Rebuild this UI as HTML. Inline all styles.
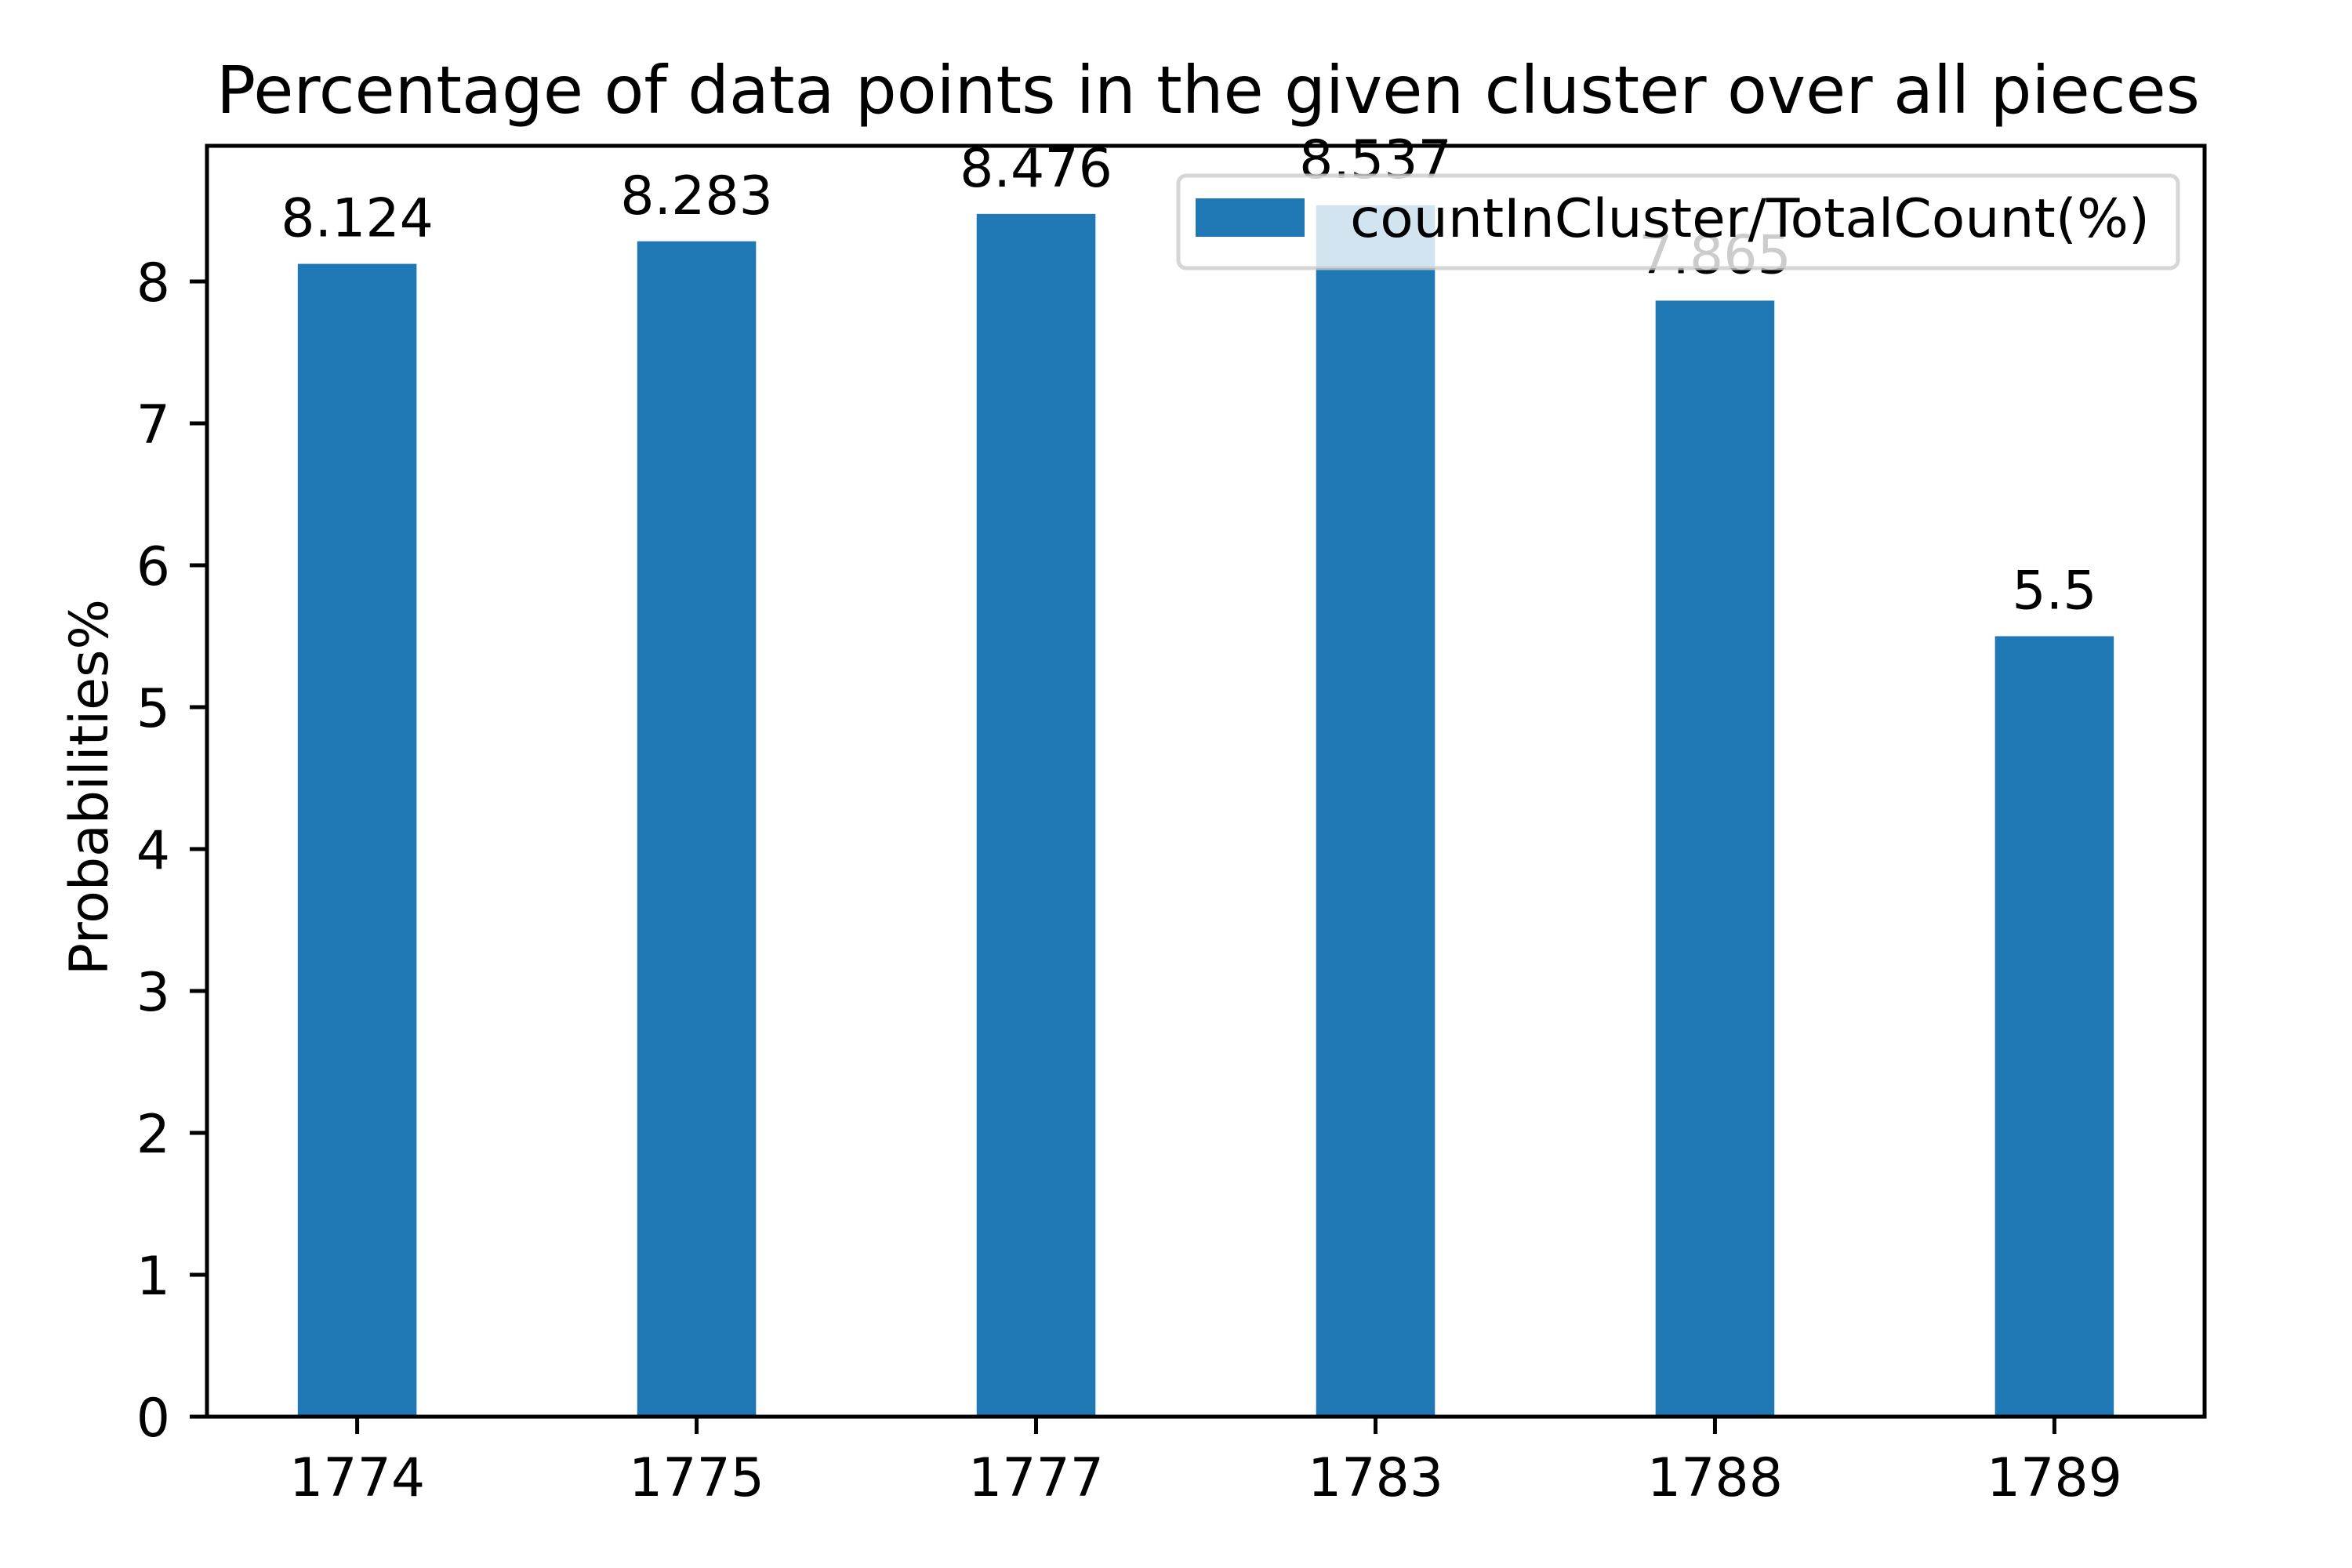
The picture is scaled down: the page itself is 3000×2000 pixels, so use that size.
<!DOCTYPE html>
<html><head><meta charset="utf-8"><style>
html,body{margin:0;padding:0;background:#fff;}
svg{display:block;font-family:"DejaVu Sans","Liberation Sans",sans-serif;}
</style></head><body>
<svg id="chart" width="3000" height="2000" viewBox="0 0 3000 2000" xmlns="http://www.w3.org/2000/svg">
<rect x="0" y="0" width="3000" height="2000" fill="#fff"/>
<text x="276" y="144" font-size="84" textLength="2530" lengthAdjust="spacingAndGlyphs">Percentage of data points in the given cluster over all pieces</text>
<g id="bars"></g>
<g id="labels"></g>
<g id="axes"></g>
<text transform="translate(137,1004) rotate(-90)" font-size="68" text-anchor="middle">Probabilities%</text>
<g>
<rect x="1503" y="224" width="1275" height="118" rx="10" fill="rgba(255,255,255,0.8)" stroke="rgba(204,204,204,0.8)" stroke-width="5"/>
<rect x="1525" y="253" width="139" height="49" fill="#1f77b4"/>
<text x="1722" y="302" font-size="68" textLength="1020" lengthAdjust="spacingAndGlyphs">countInCluster/TotalCount(%)</text>
</g>
</svg>
<script>
const categories = ["1774","1775","1777","1783","1788","1789"];
const values = [8.124, 8.283, 8.476, 8.537, 7.865, 5.5];
const valueLabels = ["8.124","8.283","8.476","8.537","7.865","5.5"];
const yTicks = [0,1,2,3,4,5,6,7,8];

const L=264,R=2812,T=186,B=1807;
const xMin=-0.4425,xMax=5.4425;
const yPerUnit=181;
const NS="http://www.w3.org/2000/svg";
function xs(i){return L+(i-xMin)/(xMax-xMin)*(R-L);}
function ys(v){return B-v*yPerUnit;}
function mk(tag,attrs,parent){const e=document.createElementNS(NS,tag);for(const k in attrs)e.setAttribute(k,attrs[k]);parent.appendChild(e);return e;}
const gb=document.getElementById('bars'),gl=document.getElementById('labels'),ga=document.getElementById('axes');
const bw=0.35*(R-L)/(xMax-xMin);
values.forEach((v,i)=>{
  const r=mk('rect',{x:xs(i)-bw/2,y:ys(v),width:bw,height:B-ys(v),fill:'#1f77b4'},gb);
  
  
  const t=mk('text',{x:xs(i),y:ys(v)-35,'font-size':68,'text-anchor':'middle'},gl);
  t.textContent=valueLabels[i];
  
  
});
const frame=mk('rect',{x:L,y:T,width:R-L,height:B-T,fill:'none',stroke:'#000','stroke-width':5},ga);


yTicks.forEach(v=>{
  const y=ys(v);
  const tk=mk('line',{x1:L-22,x2:L,y1:y,y2:y,stroke:'#000','stroke-width':5},ga);
  
  
  const t=mk('text',{x:L-47,y:y+25,'font-size':68,'text-anchor':'end'},ga);
  t.textContent=String(v);
  
  
});
categories.forEach((c,i)=>{
  const x=xs(i);
  const tk=mk('line',{x1:x,x2:x,y1:B,y2:B+22,stroke:'#000','stroke-width':5},ga);
  
  
  const t=mk('text',{x:x,y:1908,'font-size':68,'text-anchor':'middle'},ga);
  t.textContent=c;
  
  
});
</script>
</body></html>
